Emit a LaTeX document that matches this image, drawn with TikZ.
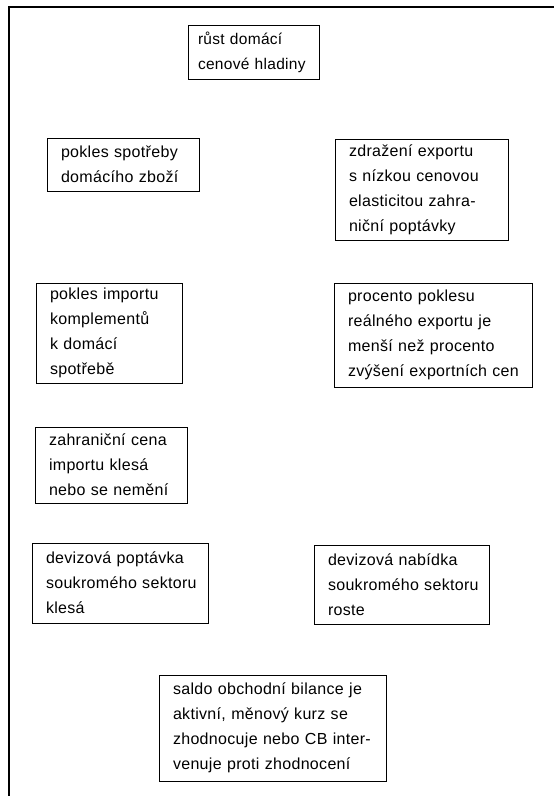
\documentclass[tikz,border=0pt]{standalone}
\usepackage{fontspec}
\setmainfont{Liberation Sans}[LetterSpace=2]
\begin{document}
\begin{tikzpicture}[x=1pt,y=-1pt,
  box/.style={draw, line width=0.95pt, align=left, inner xsep=14pt, inner ysep=0pt,
    font=\fontsize{16}{25}\selectfont, anchor=center,
    execute at begin node={\hyphenpenalty=10000\exhyphenpenalty=10000\hbadness=10000\hfuzz=20pt}},
  frame/.style={line width=1.4pt}]
\useasboundingbox (0,0) rectangle (554,796);
\coordinate (fb) at (9,796);
\coordinate (fc) at (9,7);
\coordinate (fr) at (554,7);
\draw[frame] (fb) -- (fc) -- (fr);
\node[box, inner xsep=10pt, font=\fontsize{15.5}{25}\selectfont, text width=111pt, minimum height=54pt] (n1) at (253.5,52) {růst~domácí\\cenové~hladiny};
\node[box, text width=124pt, minimum height=53pt] (n2) at (123,164.5) {pokles~spotřeby\\domácího~zboží};
\node[box, text width=145pt, minimum height=101pt] (n3) at (421.5,189.5) {zdražení~exportu\\s~nízkou~cenovou\\elasticitou~zahra-\\niční~poptávky};
\node[box, text width=118pt, minimum height=100pt] (n4) at (109,333) {pokles~importu\\komplementů\\k~domácí\\spotřebě};
\node[box, text width=170pt, minimum height=104pt] (n5) at (433,335) {procento~poklesu\\reálného~exportu~je\\menší~než~procento\\zvýšení~exportních~cen};
\node[box, text width=124pt, minimum height=76pt] (n6) at (111,465) {zahraniční~cena\\importu~klesá\\nebo~se~nemění};
\node[box, text width=148pt, minimum height=80pt] (n7) at (120,583) {devizová~poptávka\\soukromého~sektoru\\klesá};
\node[box, text width=147pt, minimum height=79pt] (n8) at (401.5,584.5) {devizová~nabídka\\soukromého~sektoru\\roste};
\node[box, text width=199pt, minimum height=106pt] (n9) at (272.5,728) {saldo~obchodní~bilance~je\\aktivní,~měnový~kurz~se\\zhodnocuje~nebo~CB~inter-\\venuje~proti~zhodnocení};
\end{tikzpicture}
\end{document}
